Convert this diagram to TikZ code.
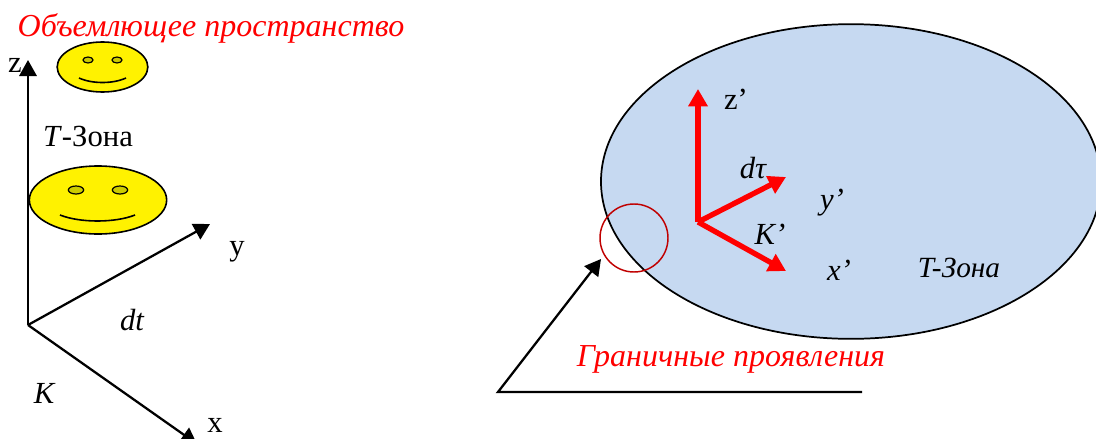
\documentclass[tikz,border=0pt]{standalone}
\usepackage{fontspec}
\setmainfont{Liberation Serif}
\usepackage{xcolor}
\definecolor{zonefill}{HTML}{C6D9F1}
\definecolor{ringred}{HTML}{C00000}
\definecolor{eyefill}{HTML}{CCCC00}
\usepackage{tikz}
\usetikzlibrary{arrows.meta,positioning,calc,shapes.geometric}

\begin{document}
\begin{tikzpicture}[
  x=0.75pt, y=-0.75pt,
  lbl/.style={inner sep=0pt, font=\fontsize{23}{26}\selectfont},
  lblit/.style={lbl, font=\fontsize{23}{26}\selectfont\itshape},
  lblred/.style={lbl, text=red, font=\fontsize{24}{27}\selectfont\itshape},
  face/.style={draw=black, fill=yellow, ellipse, inner sep=0pt, line width=1.2pt},
  eye/.style={draw=black, fill=eyefill, ellipse, inner sep=0pt, line width=0.9pt},
  mouth/.style={draw=black, line width=1.2pt},
  axis/.style={draw=black, line width=1.7pt, -{Triangle[length=12pt,width=13pt]}},
  redaxis/.style={draw=red, line width=4pt, -{Triangle[length=13pt,width=14pt]}}
]
  \useasboundingbox (0,0) rectangle (1096,439);
  % left frame
  \coordinate (o) at (28,325);
  \coordinate (zend) at (28,60);
  \coordinate (yend) at (210,224);
  \coordinate (xend) at (197,444);
  \draw[axis] (o) -- (zend);
  \draw[axis] (o) -- (yend);
  \draw[axis] (o) -- (xend);
  % faces
  \node[face, minimum width=68pt, minimum height=37.5pt] (small) at (102.5,67) {};
  \node[eye, minimum width=7.5pt, minimum height=4.5pt] at (88,60) {};
  \node[eye, minimum width=7.5pt, minimum height=4.5pt] at (117,60) {};
  \coordinate (sm1) at (79,78);
  \coordinate (sm2) at (126,78);
  \draw[mouth] (sm1) .. controls (92,84) and (113,84) .. (sm2);
  \node[face, minimum width=103pt, minimum height=51pt] (big) at (98,200) {};
  \node[eye, minimum width=11.5pt, minimum height=6pt] at (76,190) {};
  \node[eye, minimum width=11.5pt, minimum height=6pt] at (120,190) {};
  \coordinate (bm1) at (60,215);
  \coordinate (bm2) at (135,215);
  \draw[mouth] (bm1) .. controls (80,223) and (115,223) .. (bm2);
  % right zone
  \node[draw=black, fill=zonefill, ellipse, inner sep=0pt, line width=1.3pt,
    minimum width=375pt, minimum height=236pt] (zone) at (851,181.5) {};
  \node[draw=ringred, ellipse, inner sep=0pt, line width=1.1pt,
    minimum width=51pt, minimum height=51pt] (ring) at (634,238) {};
  \coordinate (o2) at (698,222);
  \coordinate (z2) at (698,89);
  \coordinate (y2) at (786,177);
  \coordinate (x2) at (786,271);
  \draw[redaxis] (o2) -- (z2);
  \draw[redaxis] (o2) -- (y2);
  \draw[redaxis] (o2) -- (x2);
  % pointer
  \coordinate (p1) at (862,392);
  \coordinate (p2) at (498,392);
  \coordinate (p3) at (601,259);
  \draw[axis] (p1) -- (p2) -- (p3);
  % labels
  \node[lblred] (title) at (211,28) {Объемлющее пространство};
  \node[lbl] (lz) at (15,65) {z};
  \node[lbl] (ltz) at (88,136) {\textit{T}-Зона};
  \node[lbl] (ly) at (237,252) {y};
  \node[lblit] (ldt) at (132,320) {dt};
  \node[lblit] (lk) at (44,393) {K};
  \node[lbl] (lx) at (215,425) {x};
  \node[lbl] (lzp) at (736,99) {z’};
  \node[lblit] (ldtau) at (753,168) {dτ};
  \node[lblit] (lyp) at (832,203) {y’};
  \node[lblit] (lkp) at (770,234) {K’};
  \node[lblit] (lxp) at (839,270) {x’};
  \node[lblit, font=\fontsize{22}{25}\selectfont\itshape] (ltz2) at (959,268) {T-Зона};
  \node[lblred] (lb) at (731,359) {Граничные проявления};
\end{tikzpicture}
\end{document}
